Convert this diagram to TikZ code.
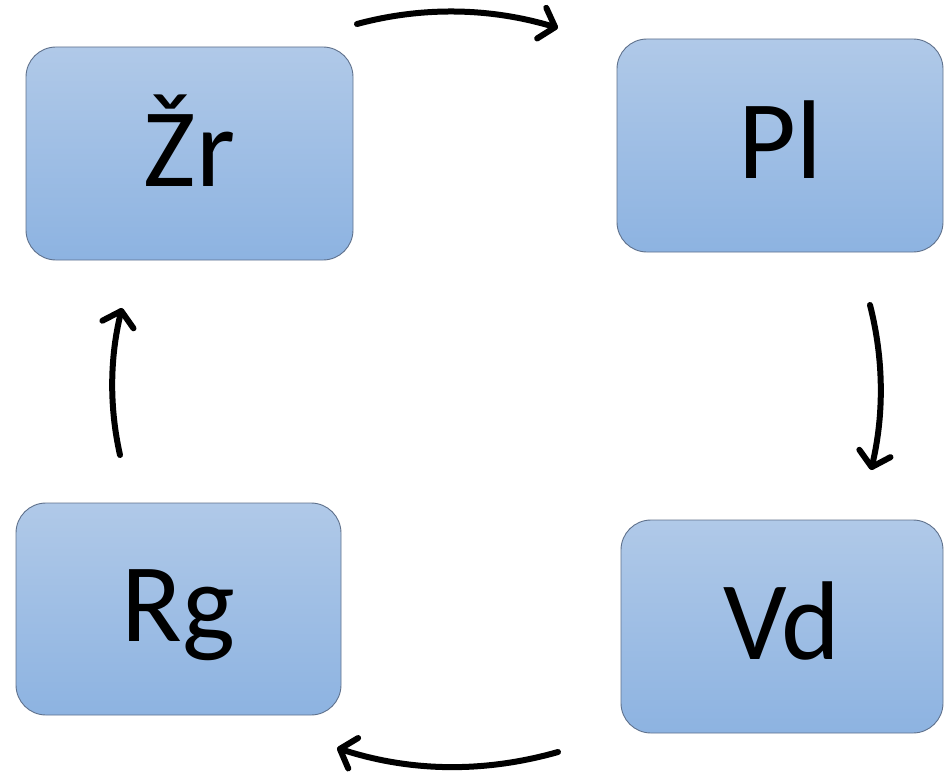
\documentclass[tikz,border=0pt]{standalone}
\usepackage{fontspec}
\setmainfont{Carlito}
\usetikzlibrary{arrows.meta}
\definecolor{boxtop}{HTML}{B0C9E8}
\definecolor{boxbot}{HTML}{8DB3E1}
\definecolor{boxline}{HTML}{5F718C}
\tikzset{
  stagebox/.style={rounded corners=30pt, draw=boxline, line width=0.9pt,
    top color=boxtop, bottom color=boxbot, inner sep=0pt,
    text height=65pt, text depth=0pt,
    font=\fontsize{112}{130}\selectfont},
  cyclearrow/.style={line width=6pt, line cap=round,
    -{Straight Barb[length=14pt,width=32pt,line cap=round,line join=round]}}
}
\begin{document}
\begin{tikzpicture}[x=1pt,y=-1pt]
\useasboundingbox (0,0) rectangle (944,773);
\node[stagebox, minimum width=327pt, minimum height=213pt] (zr) at (189.5,153.5) {Žr};
\node[stagebox, minimum width=326pt, minimum height=213pt] (pl) at (780,145.5) {Pl};
\node[stagebox, minimum width=325pt, minimum height=212pt] (rg) at (178.5,609) {Rg};
\node[stagebox, minimum width=322pt, minimum height=213pt] (vd) at (782,626.5) {Vd};
\coordinate (a1) at (357,24);
\coordinate (a2) at (558,28);
\coordinate (b1) at (870,305);
\coordinate (b2) at (871,470);
\coordinate (c1) at (558,752);
\coordinate (c2) at (337,748);
\coordinate (d1) at (120,455);
\coordinate (d2) at (122,308);
\draw[cyclearrow] (a1) .. controls (424,6) and (491,8) .. (a2);
\draw[cyclearrow] (b1) .. controls (884,360) and (884,415) .. (b2);
\draw[cyclearrow] (c1) .. controls (484,773) and (411,772) .. (c2);
\draw[cyclearrow] (d1) .. controls (109,406) and (110,357) .. (d2);
\end{tikzpicture}
\end{document}
